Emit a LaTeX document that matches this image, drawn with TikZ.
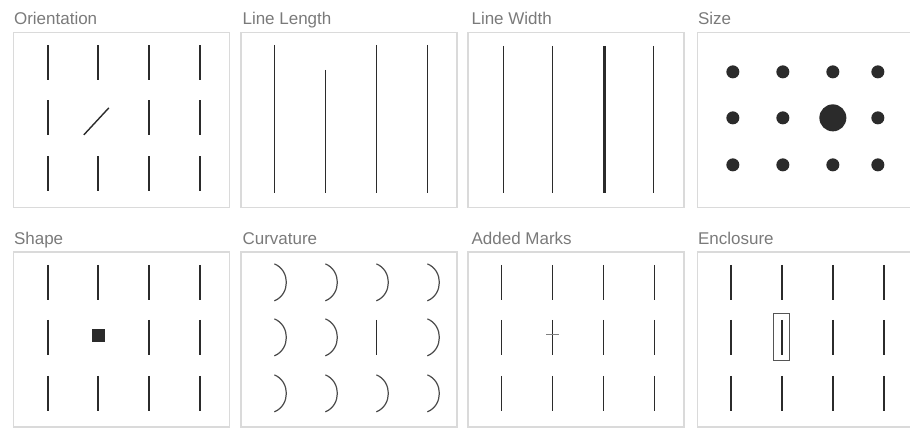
\documentclass[tikz,border=0pt]{standalone}
\usepackage{fontspec}
\setmainfont{Liberation Sans}
\usepackage{xcolor}
\usetikzlibrary{positioning}
\definecolor{cueink}{HTML}{2B2B2B}
\definecolor{cueframe}{HTML}{DADADA}
\definecolor{cuetext}{HTML}{7A7A7A}
\tikzset{
  cuepicture/.style={x=1pt, y=-1pt},
  cuepanel/.style={draw=cueframe, line width=1.3pt, minimum width=216pt, minimum height=175pt, inner sep=0pt},
  cuelabel/.style={anchor=base west, text=cuetext, font=\fontsize{17}{20}\selectfont, inner sep=0pt},
  cuebar/.style={draw=cueink, line width=1.4pt},
  cuecurve/.style={draw=cueink!85, line width=1.2pt},
  cuedot/.style={fill=cueink},
  cuetick/.style={draw=cueink!60, line width=0.8pt},
  cuebox/.style={draw=cueink!80, line width=1pt}
}

\begin{document}
\begin{tikzpicture}[cuepicture]
\useasboundingbox (0,0) rectangle (910,428);
% panels, top row
\node[cuepanel] (orient) at (121.5,120) {};
\node[cuepanel] (length) at (349,120) {};
\node[cuepanel] (width) at (576,120) {};
\node[cuepanel] (size) at (805.5,120) {};
% panels, bottom row
\node[cuepanel] (shape) at (121.5,339.5) {};
\node[cuepanel] (curve) at (349,339.5) {};
\node[cuepanel] (marks) at (576,339.5) {};
\node[cuepanel] (enclose) at (805.5,339.5) {};
% titles
\node[cuelabel] (orientlab) at ([xshift=1pt, yshift=7pt]orient.north west) {Orientation};
\node[cuelabel] (lengthlab) at ([xshift=2pt, yshift=7pt]length.north west) {Line Length};
\node[cuelabel] (widthlab) at ([xshift=4pt, yshift=7pt]width.north west) {Line Width};
\node[cuelabel] (sizelab) at ([xshift=1pt, yshift=7pt]size.north west) {Size};
\node[cuelabel] (shapelab) at ([xshift=1pt, yshift=7pt]shape.north west) {Shape};
\node[cuelabel] (curvelab) at ([xshift=2pt, yshift=7pt]curve.north west) {Curvature};
\node[cuelabel] (markslab) at ([xshift=4pt, yshift=7pt]marks.north west) {Added Marks};
\node[cuelabel] (encloselab) at ([xshift=1pt, yshift=7pt]enclose.north west) {Enclosure};

% orientation
\begin{scope}[shift={(orient.north west)}]
  \foreach \cx in {35,85,136,187} \foreach \cy in {31,142}
    \draw[cuebar] (\cx,\cy-17.5) -- (\cx,\cy+17.5);
  \foreach \cx in {35,136,187}
    \draw[cuebar] (\cx,68.5) -- (\cx,103.5);
  \draw[cuebar] (71,103) -- (96,76);
\end{scope}

% line length
\begin{scope}[shift={(length.north west)}]
  \foreach \cx/\ty in {34/13, 85/38, 136/13, 187/13}
    \draw[cuebar] (\cx,\ty) -- (\cx,161);
\end{scope}

% line width
\begin{scope}[shift={(width.north west)}]
  \foreach \cx/\w in {36/1.3, 85/1.3, 137/3.2, 186/1.3}
    \draw[cuebar, line width=\w pt] (\cx,14) -- (\cx,161);
\end{scope}

% size
\begin{scope}[shift={(size.north west)}]
  \foreach \cx in {36,86,136,181} \foreach \cy in {40,133}
    \fill[cuedot] (\cx,\cy) circle (6.5pt);
  \foreach \cx in {36,86,181}
    \fill[cuedot] (\cx,86) circle (6.5pt);
  \fill[cuedot] (136,86) circle (13.5pt);
\end{scope}

% shape
\begin{scope}[shift={(shape.north west)}]
  \foreach \cx in {35,85,136,187} \foreach \cy in {31,142}
    \draw[cuebar] (\cx,\cy-17.5) -- (\cx,\cy+17.5);
  \foreach \cx in {35,136,187}
    \draw[cuebar] (\cx,68.5) -- (\cx,103.5);
  \fill[cueink] (79,78) rectangle (92,91);
\end{scope}

% curvature
\begin{scope}[shift={(curve.north west)}]
  \foreach \cx in {34,85,136,187} \foreach \cy in {31,142}
    \draw[cuecurve] (\cx,\cy-18.5) .. controls (\cx+16,\cy-12) and (\cx+16,\cy+12) .. (\cx,\cy+18.5);
  \foreach \cx in {34,85,187}
    \draw[cuecurve] (\cx,67.5) .. controls (\cx+16,74) and (\cx+16,98) .. (\cx,104.5);
  \draw[cuebar] (136,68.5) -- (136,103.5);
\end{scope}

% added marks
\begin{scope}[shift={(marks.north west)}]
  \foreach \cx in {34,85,136,187} \foreach \cy in {31,86,142}
    \draw[cuebar] (\cx,\cy-17.5) -- (\cx,\cy+17.5);
  \draw[cuetick] (79,83) -- (92,83);
\end{scope}

% enclosure
\begin{scope}[shift={(enclose.north west)}]
  \foreach \cx in {34,85,136,187} \foreach \cy in {31,86,142}
    \draw[cuebar] (\cx,\cy-17.5) -- (\cx,\cy+17.5);
  \draw[cuebox] (77,62) rectangle (93,109);
\end{scope}
\end{tikzpicture}
\end{document}
